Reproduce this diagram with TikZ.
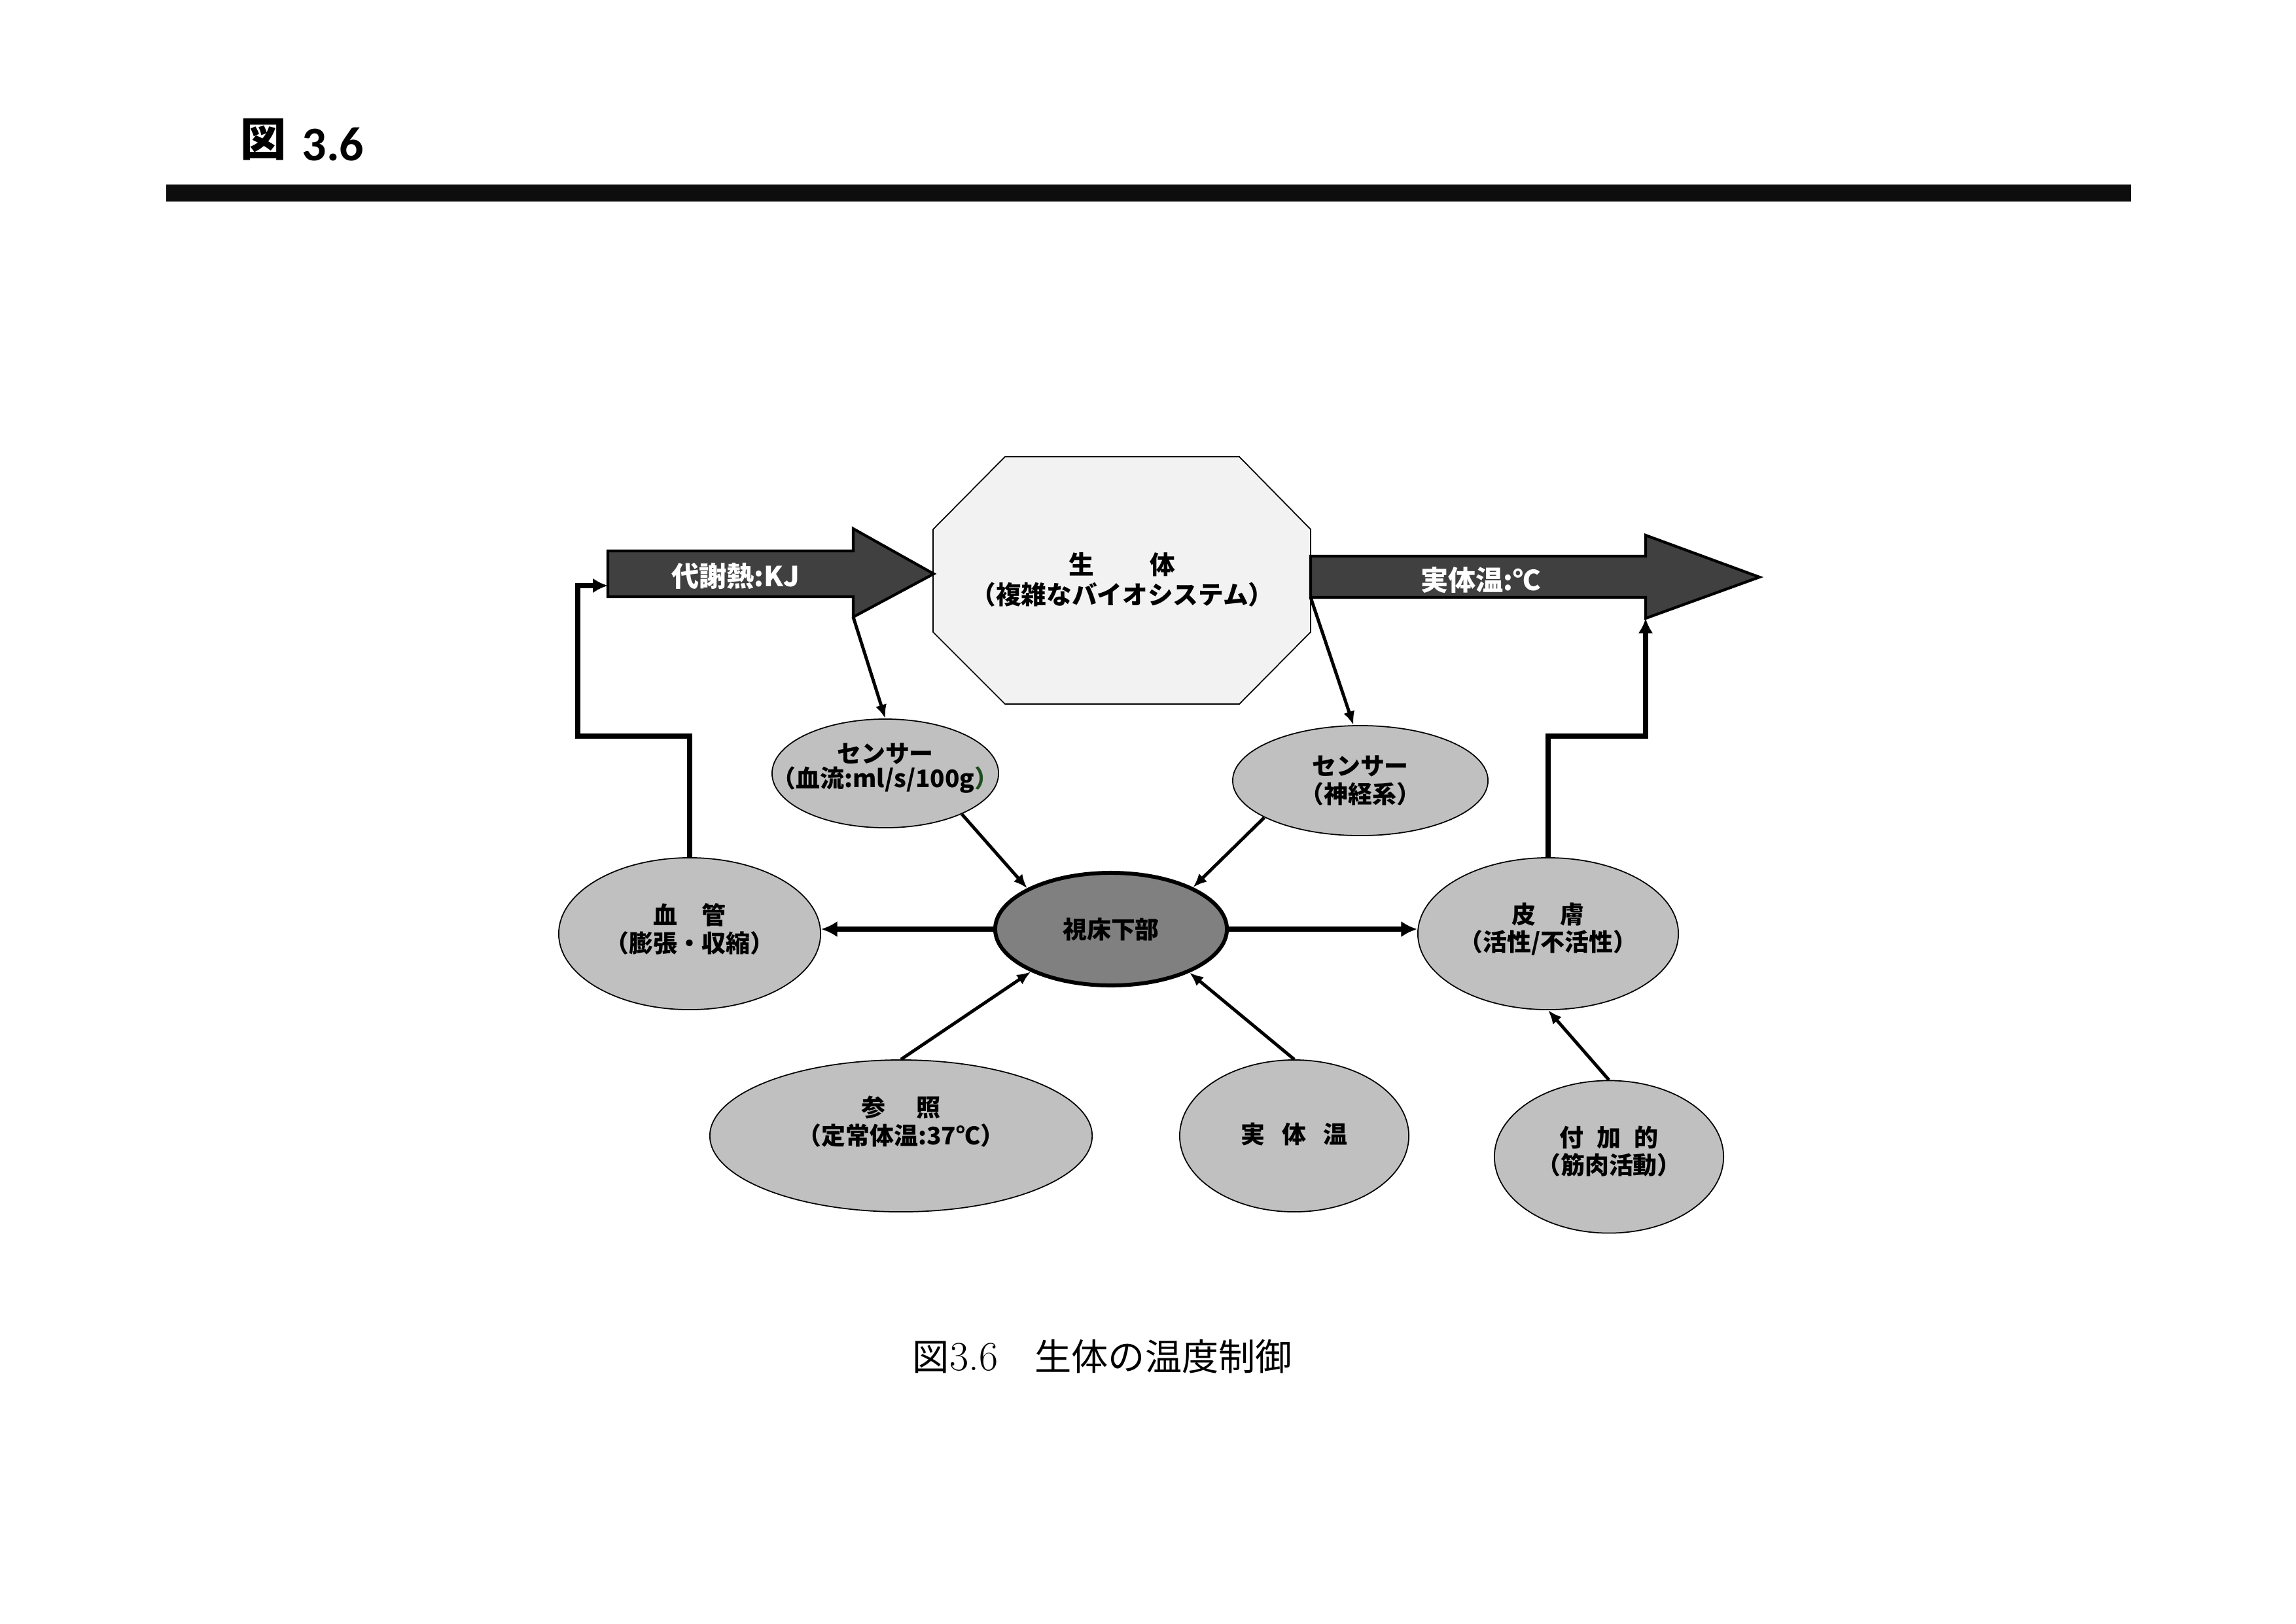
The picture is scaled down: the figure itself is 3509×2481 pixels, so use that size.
\documentclass[tikz,border=0pt]{standalone}
\usepackage{fontspec}
\usetikzlibrary{arrows.meta,shapes.geometric}
\newfontfamily\jp{Noto Sans CJK JP}
\newfontfamily\titlenum{Carlito}
\definecolor{arrowfill}{HTML}{404040}
\definecolor{octfill}{HTML}{F2F2F2}
\definecolor{bubfill}{HTML}{C0C0C0}
\definecolor{hypfill}{HTML}{808080}
\definecolor{parengreen}{HTML}{1E4D1E}
\begin{document}
\begin{tikzpicture}[x=0.01cm,y=-0.01cm,
  bub/.style={ellipse, draw=black, line width=0.5pt, fill=bubfill, inner sep=0pt},
  lbl/.style={align=center, inner sep=0pt, font=\jp\bfseries\fontsize{10.5}{12}\selectfont},
  wlbl/.style={text=white, inner sep=0pt, font=\jp\bfseries\fontsize{12}{14}\selectfont},
  conn/.style={line width=1.4pt, -{Latex[length=6pt,width=5pt]}},
  thickconn/.style={line width=2.2pt, -{Latex[length=7pt,width=7pt]}},
  fb/.style={line width=2.1pt, -{Latex[length=6.5pt,width=6.5pt]}},
  bigarrow/.style={fill=arrowfill, draw=black, line width=1.2pt, line join=miter},
]
\useasboundingbox (0,0) rectangle (3509,2481);
\fill[white] (0,0) rectangle (3509,2481);

% title and rule
\node[inner sep=0pt, font=\jp\bfseries\fontsize{20}{24}\selectfont] (tz) at (403,213) {図};
\node[inner sep=0pt, anchor=base west, font=\titlenum\bfseries\fontsize{21}{24}\selectfont] (tnum) at (461,245) {3.6};
\fill[black!95] (254,282) rectangle (3257,308);

% octagon (body)
\draw[fill=octfill, draw=black, line width=0.5pt]
  (1536,698) -- (1894,698) -- (2003,809) -- (2003,966) -- (1894,1076) -- (1536,1076) -- (1426,966) -- (1426,809) -- cycle;
\node[lbl, font=\jp\bfseries\fontsize{11}{13.3}\selectfont] (body) at (1715,886) {生\hspace{2.2em}体\\（複雑なバイオシステム）};

% big arrows
\coordinate (LAtl) at (929,842);
\coordinate (LAbl) at (929,912);
\coordinate (LAin) at (929,895);
\coordinate (LAht) at (1304,808);
\coordinate (LAtip) at (1427,877);
\coordinate (LAhb) at (1304,943);
\draw[bigarrow] (LAtl) -- (1304,842) -- (LAht) -- (LAtip) -- (LAhb) -- (1304,912) -- (LAbl) -- cycle;
\node[wlbl] (lat) at (1124,880) {代謝熱:KJ};

\coordinate (RAtl) at (2003,850);
\coordinate (RAbl) at (2003,913);
\coordinate (RAht) at (2515,818);
\coordinate (RAtip) at (2689,882);
\coordinate (RAhb) at (2515,945);
\draw[bigarrow] (RAtl) -- (2515,850) -- (RAht) -- (RAtip) -- (RAhb) -- (2515,913) -- (RAbl) -- cycle;
\node[wlbl] (rat) at (2263,887) {実体温:℃};

% ellipses
\node[bub, minimum width=3.46cm, minimum height=1.66cm] (s1) at (1353,1182) {};
\node[lbl, font=\jp\bfseries\fontsize{10.5}{11}\selectfont] at ([yshift=8pt*0+0.08cm]s1.center) {センサー\\（血流:ml/s/100g{\color{parengreen}）}};
\node[bub, minimum width=3.90cm, minimum height=1.68cm] (s2) at (2079,1193) {};
\node[lbl] at (s2) {センサー\\（神経系）};
\node[ellipse, draw=black, line width=1.7pt, fill=hypfill, inner sep=0pt, minimum width=3.54cm, minimum height=1.72cm] (hyp) at (1698,1420) {};
\node[lbl] at (hyp) {視床下部};
\node[bub, minimum width=4.00cm, minimum height=2.32cm] (ves) at (1054,1427) {};
\node[lbl] at ([yshift=0.07cm]ves.center) {血　管\\（膨張・収縮）};
\node[bub, minimum width=3.98cm, minimum height=2.32cm] (skin) at (2366,1427) {};
\node[lbl] at ([yshift=0.07cm]skin.center) {皮　膚\\（活性/不活性）};
\node[bub, minimum width=5.84cm, minimum height=2.32cm] (ref) at (1377,1736) {};
\node[lbl] at ([yshift=0.22cm]ref.center) {参\hspace{1.3em}照\\（定常体温:37℃）};
\node[bub, minimum width=3.50cm, minimum height=2.32cm] (act) at (1978,1736) {};
\node[lbl] at ([yshift=0.02cm]act.center) {実\hspace{0.7em}体\hspace{0.7em}温};
\node[bub, minimum width=3.50cm, minimum height=2.33cm] (add) at (2459,1768) {};
\node[lbl] at ([yshift=0.08cm]add.center) {付\hspace{0.55em}加\hspace{0.55em}的\\（筋肉活動）};

% connectors
\draw[conn] (LAhb) -- (s1.north);
\draw[conn] (RAbl) -- (s2.97);
\draw[conn] (s1.-28) -- (hyp.154);
\draw[conn] (s2.201) -- (hyp.27);
\draw[conn] (ref.north) -- (hyp.208);
\draw[conn] (act.north) -- (hyp.-29);
\draw[conn] (add.north) -- (skin.south);
\draw[thickconn] (hyp.west) -- (hyp.west -| ves.east);
\draw[thickconn] (hyp.east) -- (hyp.east -| skin.west);

% feedback paths
\coordinate (fbL) at (883,1125);
\coordinate (fbR) at (2515,1125);
\draw[fb] (ves.north) |- (fbL) |- (LAin);
\draw[fb] (skin.north) |- (fbR) -- (RAhb);

% caption
\node[inner sep=0pt, font=\jp\fontsize{16}{19}\selectfont] (cap) at (1685,2073) {図{\rmfamily\fontsize{18}{20}\selectfont 3.6}　生体の温度制御};
\end{tikzpicture}
\end{document}
